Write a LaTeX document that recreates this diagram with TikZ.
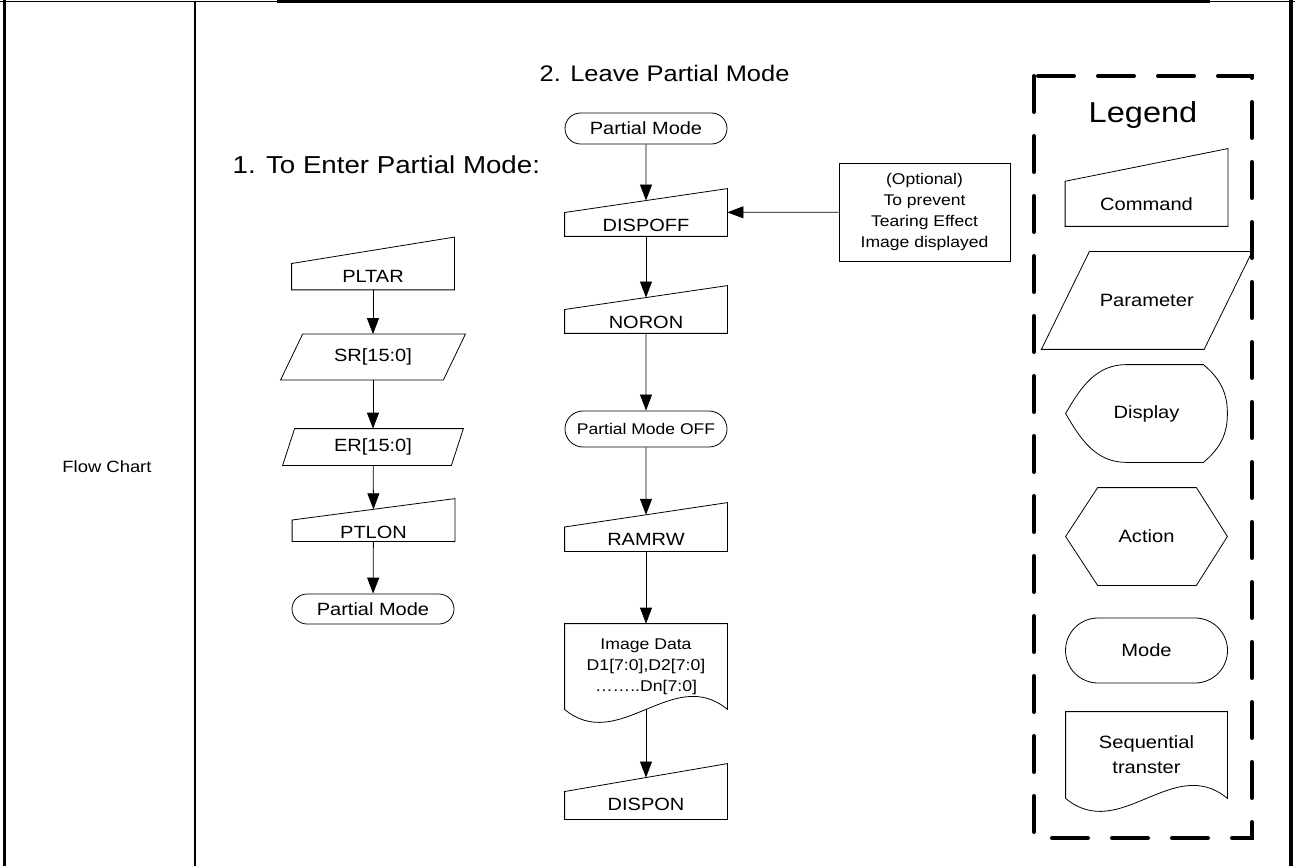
\documentclass[tikz,border=0pt]{standalone}
\usepackage{fontspec}
\setmainfont{Liberation Sans}[FakeStretch=1.13]
\usetikzlibrary{arrows.meta, calc, shapes.misc}

\begin{document}
\begin{tikzpicture}[
    x=1pt, y=1pt,
    line width=0.8pt,
    box/.style={inner sep=0pt, align=center, font=\fontsize{17.7}{21}\selectfont},
    cmd/.style={box, minimum width=162pt, text height=37.6pt, text depth=0pt},
    par/.style={box, minimum height=45pt},
    term/.style={box, draw, rounded rectangle, minimum width=162pt, minimum height=31pt},
    doc/.style={box, minimum width=162pt, minimum height=85pt, font=\fontsize{15.6}{21}\selectfont},
    flow/.style={-{Triangle[length=16pt, width=12pt]}},
    legendframe/.style={line width=4pt, dash pattern=on 36pt off 24pt, line cap=round}
    ]
    \useasboundingbox (0,0) rectangle (1295,-866);

    % Table frame
    \draw[line width=1.5pt] (0,-1.5) -- (1295,-1.5);
    \fill (277,0) rectangle (1210,-3.5);
    \draw[line width=3.5pt] (4.5,0) -- (4.5,-866);
    \draw[line width=2pt] (194.5,-1.5) -- (194.5,-866);
    \draw[line width=3.5pt] (1291,0) -- (1291,-866);
    \node[font=\fontsize{16.3}{20}\selectfont] (rowname) at (107,-467) {Flow Chart};

    % Titles
    \node[anchor=west, font=\fontsize{24.5}{28}\selectfont] (enter) at (229,-165) {1. To Enter Partial Mode:};
    \node[anchor=west, font=\fontsize{22.5}{26}\selectfont] (leave) at (536,-73) {2. Leave Partial Mode};

    % 1. Enter partial mode
    \node[cmd, minimum height=52pt] (pltar) at (373,-263.5) {PLTAR};
    \node[par, minimum width=184pt] (sr) at (373,-357) {SR[15:0]};
    \node[par, minimum width=180pt, minimum height=36pt] (er) at (373,-447) {ER[15:0]};
    \node[cmd, minimum height=42pt] (ptlon) at (373.5,-520) {PTLON};
    \node[term, minimum height=30pt] (pm1) at (373,-609) {Partial Mode};

    \draw[flow] (pltar) -- (sr);
    \draw[flow] (sr) -- (er);
    \draw[flow] (er) -- ($(ptlon.north)!.5!(ptlon.center)$);
    \draw[flow] (ptlon) -- (pm1);

    % 2. Leave partial mode
    \node[term] (pm2) at (646,-128.5) {Partial Mode};
    \node[cmd, minimum height=47pt] (dispoff) at (646,-212.5) {DISPOFF};
    \node[cmd, minimum height=47pt] (noron) at (646,-309.5) {NORON};
    \node[term, minimum height=36pt, font=\fontsize{15.5}{19}\selectfont] (pmoff) at (646,-429) {Partial Mode OFF};
    \node[cmd, minimum height=48pt] (ramrw) at (646,-527) {RAMRW};
    \node[doc] (img) at (646,-666.5) {Image Data\\D1[7:0],D2[7:0]\\……..Dn[7:0]};
    \node[cmd, minimum height=55pt] (dispon) at (646,-791.5) {DISPON};

    \draw[flow] (pm2) -- ($(dispoff.north)!.5!(dispoff.center)$);
    \draw[flow] (dispoff) -- ($(noron.north)!.5!(noron.center)$);
    \draw[flow] (noron) -- (pmoff);
    \draw[flow] (pmoff) -- ($(ramrw.north)!.5!(ramrw.center)$);
    \draw[flow] (ramrw) -- (img);
    \draw[flow] (img) -- ($(dispon.north)!.5!(dispon.center)$);

    % Optional note
    \node[draw, inner sep=0pt, align=center, minimum width=171pt, minimum height=98pt,
          font=\fontsize{15.5}{21.3}\selectfont] (note) at (924.5,-212) {(Optional)\\To prevent\\Tearing Effect\\Image displayed};
    \draw[flow] (note) -- (dispoff);

    % Legend
    \draw[legendframe] (1034,-76) rectangle (1252,-838);
    \node[font=\fontsize{28.8}{34}\selectfont] (legend) at (1143,-115) {Legend};
    \node[cmd, minimum height=77pt, text height=45.6pt, font=\fontsize{17.8}{21}\selectfont] (lcmd) at (1146.5,-187.5) {Command};
    \node[par, minimum width=210pt, minimum height=97pt, font=\fontsize{17.8}{21}\selectfont] (lpar) at (1146.75,-300.5) {Parameter};
    \node[box, minimum width=161pt, minimum height=97pt, font=\fontsize{17.8}{21}\selectfont] (ldisp) at (1146.5,-413.5) {Display};
    \node[box, minimum width=161pt, minimum height=97pt, font=\fontsize{17.8}{21}\selectfont] (lact) at (1146.5,-536.5) {Action};
    \node[term, minimum height=65pt, font=\fontsize{17.8}{21}\selectfont] (lmode) at (1146.5,-650.5) {Mode};
    \node[doc, minimum width=161pt, minimum height=86pt, font=\fontsize{17.8}{25}\selectfont] (lseq) at (1146.5,-755) {Sequential\\transter};

    % Shape outlines
    \foreach \n/\f in {pltar/.5, ptlon/.5, dispoff/.5, noron/.5, ramrw/.5, dispon/.5, lcmd/.42}
        \draw (\n.south west) -- (\n.south east) -- (\n.north east) -- ($(\n.north west)!\f!(\n.south west)$) -- cycle;
    \foreach \n/\s in {sr/22, er/12, lpar/48}
        \draw (\n.south west) -- ($(\n.north west)+(\s,0)$) -- (\n.north east) -- ($(\n.south east)+(-\s,0)$) -- cycle;
    \foreach \n in {img, lseq}
        \draw (\n.south west) -- (\n.north west) -- (\n.north east) -- (\n.south east)
            .. controls +(-54,45) and +(54,-45) .. (\n.south west);
    \draw ($(ldisp.north west)+(61,0)$) -- ($(ldisp.north east)+(-24,0)$) to[out=-40,in=90] (ldisp.east)
        to[out=-90,in=40] ($(ldisp.south east)+(-24,0)$) -- ($(ldisp.south west)+(61,0)$)
        to[out=180,in=-60] (ldisp.west) to[out=60,in=180] ($(ldisp.north west)+(61,0)$);
    \draw (lact.west) -- ($(lact.north west)+(32,0)$) -- ($(lact.north east)+(-31,0)$) -- (lact.east)
        -- ($(lact.south east)+(-31,0)$) -- ($(lact.south west)+(32,0)$) -- cycle;
\end{tikzpicture}
\end{document}
